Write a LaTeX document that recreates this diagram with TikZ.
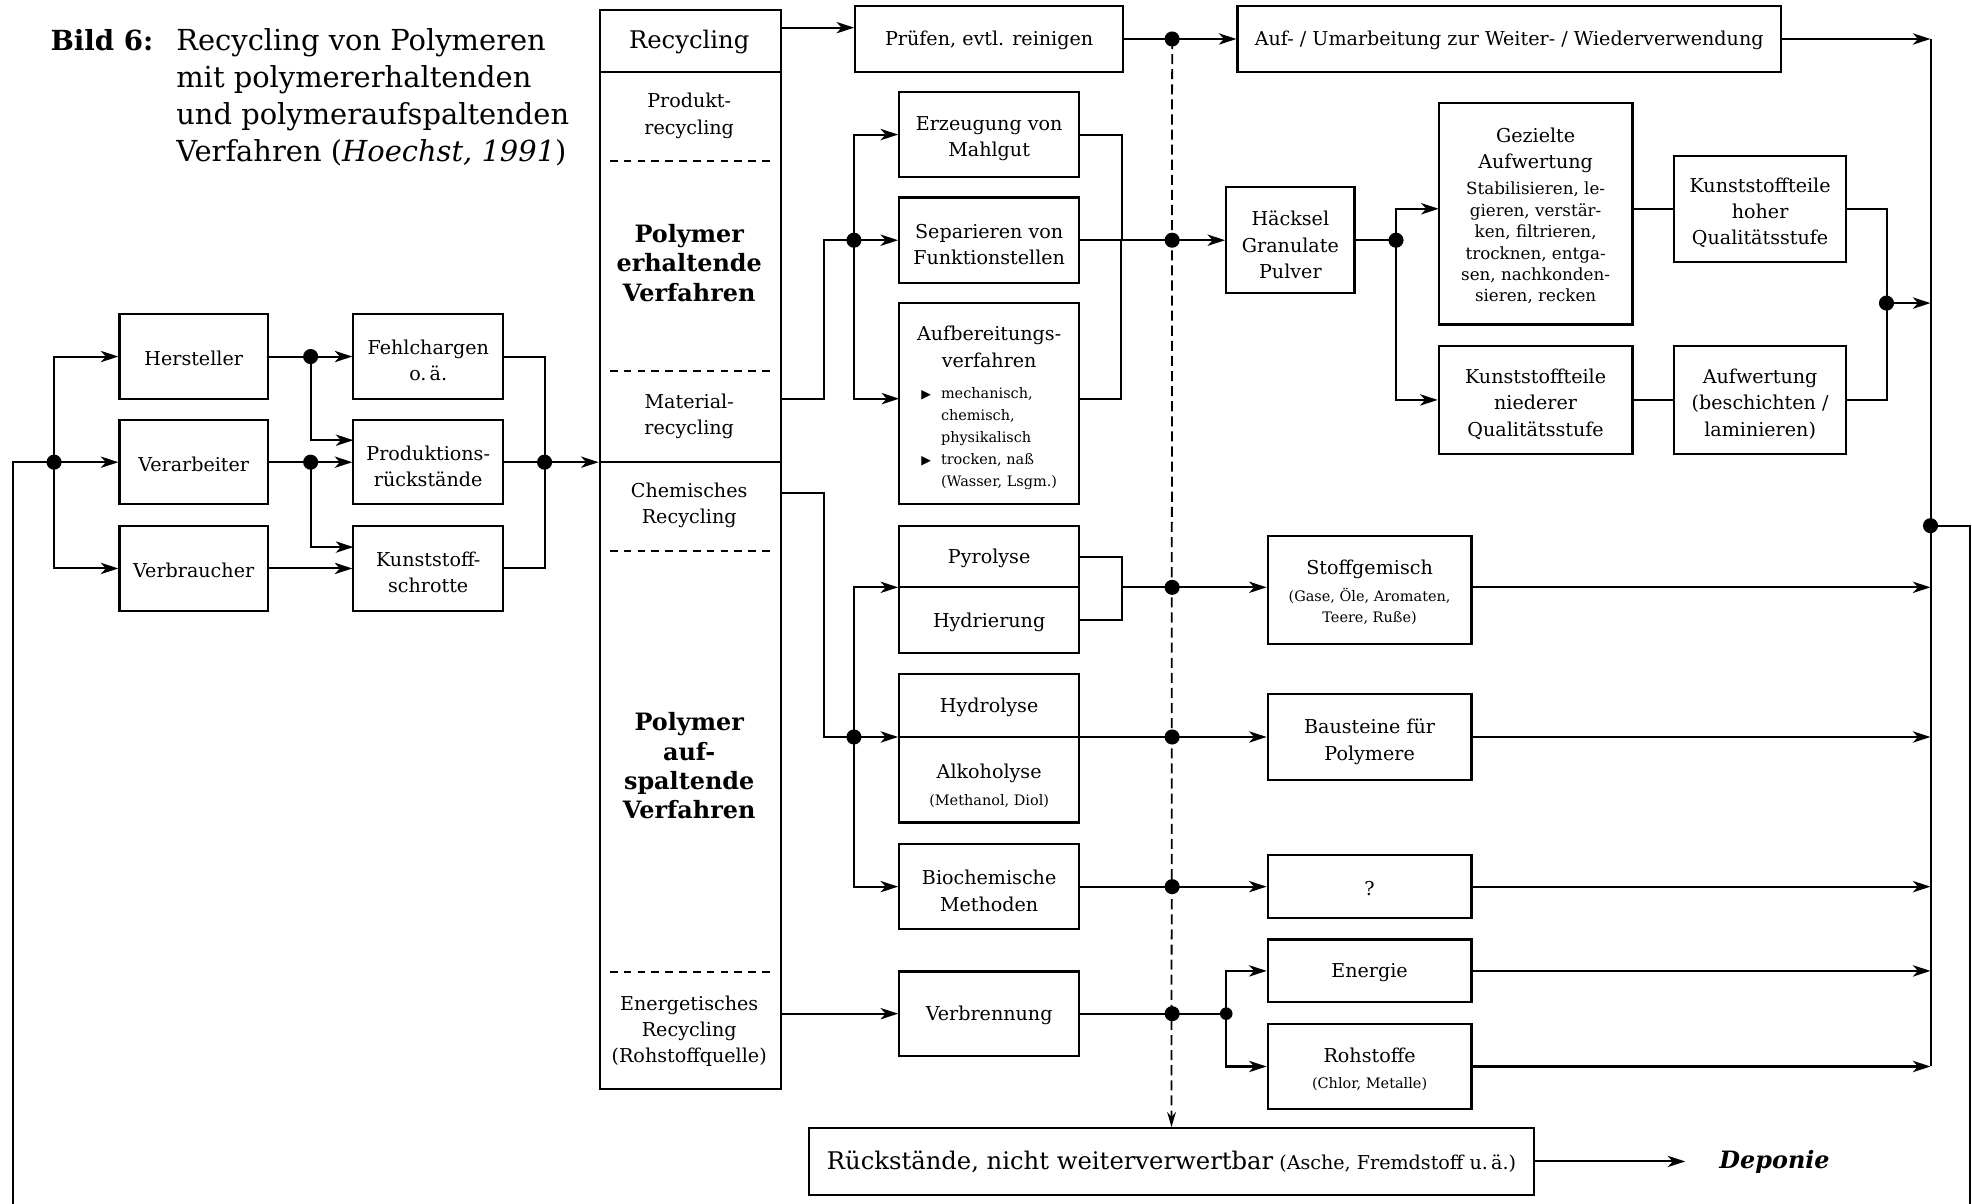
\documentclass[tikz,border=0pt]{standalone}
\usepackage{fontspec}
\setmainfont{DejaVu Serif}
\newfontfamily\symfont{DejaVu Sans}
\usetikzlibrary{arrows.meta}

\newcommand\smallfnt{\fontsize{11.5}{17.5}\selectfont}
\newcommand\tri{{\symfont\fontsize{10}{10}\selectfont ▶}}
% strut that lowers the first line of a multi-line box text a little
\newcommand\ts[1][18pt]{\rule{0pt}{#1}}

\begin{document}
\begin{tikzpicture}[x=1pt,y=-1pt,
  every node/.style={font=\fontsize{15.2}{21}\selectfont},
  box/.style={draw, line width=1.7pt, align=center, inner sep=0pt,
    execute at begin node={\rule{0pt}{14.5pt}}},
  flow/.style={line width=1.6pt},
  arr/.style={flow, -{Stealth[length=14pt,width=9pt,inset=4pt]}},
  dot/.style={circle, fill, inner sep=0pt, minimum size=12pt},
  sdot/.style={circle, fill, inner sep=0pt, minimum size=10pt},
  sepline/.style={dash pattern=on 6pt off 5pt, line width=1.5pt},
  resline/.style={dash pattern=on 8pt off 4pt, line width=1.4pt},
  colsep/.style={line width=1.7pt},
  bigbold/.style={font=\fontsize{19}{23.3}\selectfont\bfseries, align=center},
]
\useasboundingbox (0,0) rectangle (1568,957);

% ---------- title ----------
\node[anchor=north west, inner sep=0pt, font=\fontsize{22}{29.3}\selectfont\bfseries] (bild) at (40,23.5) {Bild 6:};
\node[anchor=north west, inner sep=0pt, align=left, font=\fontsize{23}{29.3}\selectfont] (title) at (140,22.5)
  {Recycling von Polymeren\\mit polymererhaltenden\\und polymeraufspaltenden\\Verfahren (\textit{Hoechst, 1991})};

% ---------- sources ----------
\node[box, minimum width=118pt, minimum height=67pt] (herst) at (154,283.5) {Hersteller};
\node[box, minimum width=118pt, minimum height=67pt] (verarb) at (154,367.5) {Verarbeiter};
\node[box, minimum width=118pt, minimum height=67pt] (verbr) at (154,452) {Verbraucher};
\node[box, minimum width=119pt, minimum height=67pt] (fehl) at (340.5,283.5) {\ts Fehlchargen\\o.\,ä.};
\node[box, minimum width=119pt, minimum height=67pt] (prod) at (340.5,367.5) {\ts Produktions-\\rückstände};
\node[box, minimum width=119pt, minimum height=67pt] (schrott) at (340.5,452) {\ts Kunststoff-\\schrotte};

% ---------- recycling column ----------
\node[draw, line width=1.7pt, minimum width=144pt, minimum height=858pt, anchor=north west, inner sep=0pt] (col) at (476,7) {};
\draw[colsep] (476,57) -- (620,57);
\draw[colsep] (476,367.5) -- (620,367.5);
\draw[sepline] (485,128) -- (614,128);
\draw[sepline] (485,295) -- (614,295);
\draw[sepline] (485,438) -- (614,438);
\draw[sepline] (485,773) -- (614,773);
\node[font=\fontsize{19.3}{21}\selectfont] (rectitle) at (548,33) {Recycling};
\node[align=center] (prodrec) at (548,92) {Produkt-\\recycling};
\node[bigbold] (erhalt) at (548,209) {Polymer\\erhaltende\\Verfahren};
\node[align=center] (matrec) at (548,331) {Material-\\recycling};
\node[align=center] (chemrec) at (548,402) {Chemisches\\Recycling};
\node[bigbold] (aufsp) at (548,609) {Polymer\\auf-\\spaltende\\Verfahren};
\node[align=center] (energrec) at (548,820) {Energetisches\\Recycling\\(Rohstoffquelle)};

% ---------- product recycling ----------
\node[box, minimum width=213pt, minimum height=52pt] (pruef) at (786.5,31) {Prüfen, evtl. reinigen};
\node[box, minimum width=432pt, minimum height=52pt] (auf) at (1200,31) {Auf- / Umarbeitung zur Weiter- / Wiederverwendung};

% ---------- material recycling ----------
\node[box, minimum width=143pt, minimum height=68pt] (erz) at (786.5,107) {\ts Erzeugung von\\Mahlgut};
\node[box, minimum width=143pt, minimum height=68pt] (sep) at (786.5,191) {\ts Separieren von\\Funktionstellen};
\node[box, minimum width=143pt, minimum height=160pt] (aufb) at (786.5,321)
  {\ts[21.5pt]Aufbereitungs-\\verfahren\\[4pt]{\smallfnt\begin{tabular}[t]{@{}l@{\hspace{8pt}}l@{}}
  \tri&mechanisch,\\&chemisch,\\&physikalisch\\
  \tri&trocken, naß\\&(Wasser, Lsgm.)\end{tabular}}};
\node[box, minimum width=102pt, minimum height=84pt] (haeck) at (1026,191) {\ts[19pt]Häcksel\\Granulate\\Pulver};
\node[box, minimum width=154pt, minimum height=176pt] (gez) at (1221,170)
  {\ts Gezielte\\Aufwertung\\{\fontsize{13.3}{17}\selectfont\begin{tabular}[t]{@{}c@{}}Stabilisieren, le-\\gieren, verstär-\\ken, filtrieren,\\trocknen, entga-\\sen, nachkonden-\\sieren, recken\end{tabular}}};
\node[box, minimum width=137pt, minimum height=84pt] (hoch) at (1399.5,166) {\ts Kunststoffteile\\hoher\\Qualitätsstufe};
\node[box, minimum width=154pt, minimum height=86pt] (nied) at (1221,318) {\ts Kunststoffteile\\niederer\\Qualitätsstufe};
\node[box, minimum width=137pt, minimum height=86pt] (aufw) at (1399.5,318) {\ts Aufwertung\\(beschichten /\\laminieren)};

% ---------- chemical recycling ----------
\node[box, minimum width=143pt, minimum height=49pt] (pyro) at (786.5,442.5) {Pyrolyse};
\node[box, minimum width=143pt, minimum height=52pt] (hydr) at (786.5,493) {Hydrierung};
\node[box, minimum width=143pt, minimum height=50pt] (hydrol) at (786.5,561) {Hydrolyse};
\node[box, minimum width=143pt, minimum height=68pt] (alk) at (786.5,620) {\ts[21pt]Alkoholyse\\{\smallfnt (Methanol, Diol)}};
\node[box, minimum width=143pt, minimum height=68pt] (bio) at (786.5,705) {\ts Biochemische\\Methoden};
\node[box, minimum width=143pt, minimum height=67pt] (verbrenn) at (786.5,806) {Verbrennung};

\node[box, minimum width=162pt, minimum height=86pt] (stoff) at (1089,469) {\ts[16pt]Stoffgemisch\\{\smallfnt (Gase, Öle, Aromaten,}\\[-4pt]{\smallfnt Teere, Ruße)}};
\node[box, minimum width=162pt, minimum height=68pt] (baust) at (1089,586) {\ts[19pt]Bausteine für\\Polymere};
\node[box, minimum width=162pt, minimum height=50pt] (quest) at (1089,705) {?};
\node[box, minimum width=162pt, minimum height=50pt] (energ) at (1089,772) {Energie};
\node[box, minimum width=162pt, minimum height=68pt] (rohst) at (1089,848) {\ts[16pt]Rohstoffe\\{\smallfnt (Chlor, Metalle)}};

% ---------- residues ----------
\node[box, minimum width=577pt, minimum height=53pt] (rueck) at (931.5,923.5)
  {{\fontsize{19.3}{21}\selectfont Rückstände, nicht weiterverwertbar} (Asche, Fremdstoff u.\,ä.)};
\node[font=\fontsize{19}{21}\selectfont\bfseries\itshape] (depo) at (1411,923.5) {Deponie};

% ---------- junction dots ----------
\node[dot] (d1) at (43,367.5) {};
\node[dot] (d2) at (247,283.5) {};
\node[dot] (d3) at (247,367.5) {};
\node[dot] (d4) at (433,367.5) {};
\node[dot] (dP) at (932,31) {};
\node[dot] (dM) at (679,191) {};
\node[dot] (dS) at (932,191) {};
\node[dot] (dH) at (1110,191) {};
\node[dot] (dQ) at (1500,241) {};
\node[dot] (dC) at (679,586) {};
\node[dot] (dPy) at (932,467) {};
\node[dot] (dHy) at (932,586) {};
\node[dot] (dB) at (932,705) {};
\node[dot] (dV) at (932,806) {};
\node[sdot] (dE) at (975,806) {};
\node[dot] (dR) at (1535,418) {};

% ---------- free ends and attachment points ----------
\coordinate (fbL) at (10,957);
\coordinate (fbR) at (1566,957);
\coordinate (busTop) at (1535,31);
\coordinate (busBot) at (1535,848);
\coordinate (prodIn) at (281,350);
\coordinate (schrottIn) at (281,435);
\coordinate (recOut) at (620,22);
\coordinate (matOut) at (620,317);
\coordinate (chemOut) at (620,392);
\coordinate (enOut) at (620,806);
\coordinate (aufbIn) at (715,317);
\coordinate (aufbOut) at (858,317);
\coordinate (gezIn) at (1144,166);
\coordinate (gezOut) at (1298,166);
\coordinate (pyJ) at (891,467);
\coordinate (depTip) at (1340,923.5);

% ---------- sources to recycling ----------
\draw[flow] (fbL) |- (d1.center);
\draw[arr] (d1.center) |- (herst.west);
\draw[arr] (d1.center) -- (verarb.west);
\draw[arr] (d1.center) |- (verbr.west);
\draw[flow] (herst.east) -- (d2.center);
\draw[arr] (d2.center) -- (fehl.west);
\draw[arr] (d2.center) |- (prodIn);
\draw[flow] (verarb.east) -- (d3.center);
\draw[arr] (d3.center) -- (prod.west);
\draw[arr] (d3.center) |- (schrottIn);
\draw[arr] (verbr.east) -- (schrott.west);
\draw[flow] (fehl.east) -| (d4.center);
\draw[flow] (schrott.east) -| (d4.center);
\draw[flow] (prod.east) -- (d4.center);
\draw[arr] (d4.center) -- (col.west |- d4);

% ---------- product recycling ----------
\draw[arr] (recOut) -- (recOut -| pruef.west);
\draw[flow] (pruef.east) -- (dP.center);
\draw[arr] (dP.center) -- (auf.west);
\draw[arr] (auf.east) -- (busTop);

% ---------- material recycling ----------
\draw[flow] (matOut) -- ++(35,0) |- (dM.center);
\draw[arr] (dM.center) |- (erz.west);
\draw[arr] (dM.center) -- (sep.west);
\draw[arr] (dM.center) |- (aufbIn);
\draw[flow] (erz.east) -- ++(33,0) |- (sep.east);
\draw[flow] (aufbOut) -- ++(33,0) |- (sep.east);
\draw[flow] (sep.east) -- (dS.center);
\draw[arr] (dS.center) -- (haeck.west);
\draw[flow] (haeck.east) -- (dH.center);
\draw[arr] (dH.center) |- (gezIn);
\draw[arr] (dH.center) |- (nied.west);
\draw[flow] (gezOut) -- (hoch.west);
\draw[flow] (nied.east) -- (aufw.west);
\draw[flow] (hoch.east) -| (dQ.center);
\draw[flow] (aufw.east) -| (dQ.center);
\draw[arr] (dQ.center) -- (dQ.center -| busTop);

% ---------- chemical recycling ----------
\draw[flow] (chemOut) -- ++(35,0) |- (dC.center);
\draw[arr] (dC.center) |- (dPy.center -| pyro.west);
\draw[arr] (dC.center) -- (dC.center -| alk.west);
\draw[arr] (dC.center) |- (bio.west);
\draw[flow] (pyro.east) -- ++(33,0) |- (hydr.east);
\draw[flow] (pyJ) -- (dPy.center);
\draw[arr] (dPy.center) -- (dPy.center -| stoff.west);
\draw[flow] (dHy.center -| alk.east) -- (dHy.center);
\draw[arr] (dHy.center) -- (baust.west);
\draw[flow] (bio.east) -- (dB.center);
\draw[arr] (dB.center) -- (quest.west);

% ---------- energy recovery ----------
\draw[arr] (enOut) -- (verbrenn.west);
\draw[flow] (verbrenn.east) -- (dV.center) -- (dE.center);
\draw[arr] (dE.center) |- (energ.west);
\draw[arr] (dE.center) |- (rohst.west);

% ---------- collecting bus and return line ----------
\draw[flow] (busTop) -- (busBot);
\draw[arr] (stoff.east |- dPy) -- (dPy -| busTop);
\draw[arr] (baust.east) -- (baust.east -| busTop);
\draw[arr] (quest.east) -- (quest.east -| busTop);
\draw[arr] (energ.east) -- (energ.east -| busTop);
\draw[arr] (rohst.east) -- (busBot);
\draw[flow] (dR.center) -| (fbR);

% ---------- residues ----------
\draw[resline, -{Stealth[length=12pt,width=7pt,inset=4pt]}] (dP.center) -- (rueck.north);
\draw[arr] (rueck.east) -- (depTip);
\end{tikzpicture}
\end{document}
